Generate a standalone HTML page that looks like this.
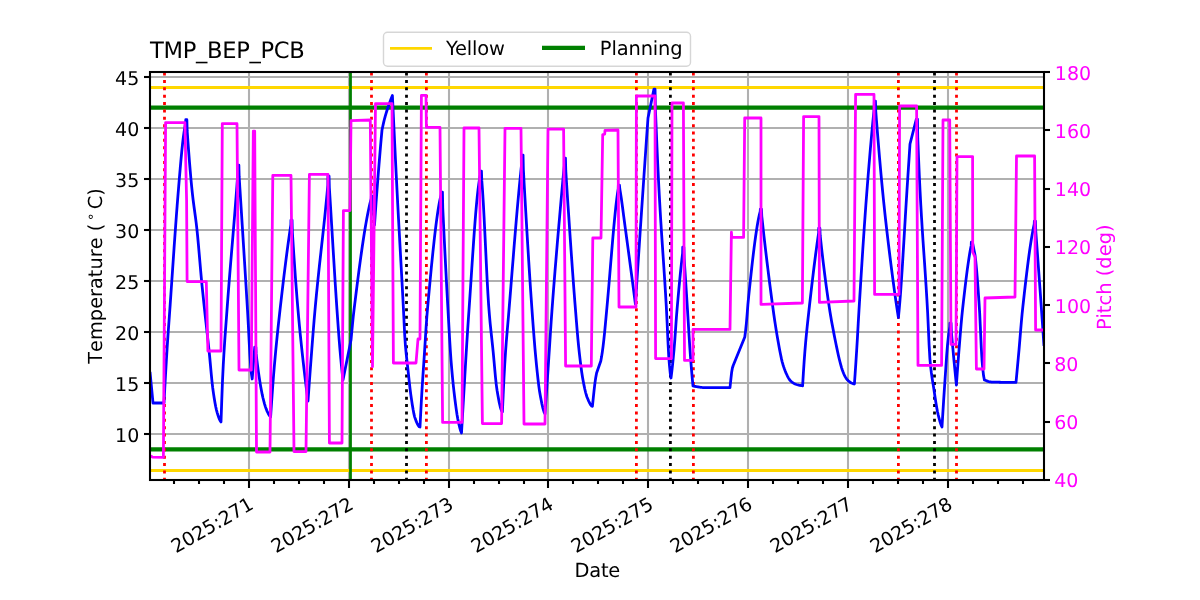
<!DOCTYPE html>
<html lang="en"><head><meta charset="utf-8"><title>TMP_BEP_PCB</title>
<style>html,body{margin:0;padding:0;background:#fff;}body{width:1200px;height:600px;overflow:hidden;}svg{display:block;}text{font-family:"DejaVu Sans","Liberation Sans",sans-serif;text-rendering:geometricPrecision;}</style>
</head><body>
<svg width="1200" height="600" viewBox="0 0 1200 600">
<rect width="1200" height="600" fill="#ffffff"/>
<defs><clipPath id="ax"><rect x="150" y="72" width="894" height="408"/></clipPath></defs>
<g clip-path="url(#ax)" fill="none">
<g stroke="#b0b0b0" stroke-width="2.08">
<line x1="249" y1="72" x2="249" y2="480"/>
<line x1="349" y1="72" x2="349" y2="480"/>
<line x1="449" y1="72" x2="449" y2="480"/>
<line x1="548" y1="72" x2="548" y2="480"/>
<line x1="648" y1="72" x2="648" y2="480"/>
<line x1="748" y1="72" x2="748" y2="480"/>
<line x1="848" y1="72" x2="848" y2="480"/>
<line x1="948" y1="72" x2="948" y2="480"/>
<line x1="150" y1="434" x2="1044" y2="434"/>
<line x1="150" y1="383" x2="1044" y2="383"/>
<line x1="150" y1="332" x2="1044" y2="332"/>
<line x1="150" y1="281" x2="1044" y2="281"/>
<line x1="150" y1="230" x2="1044" y2="230"/>
<line x1="150" y1="179" x2="1044" y2="179"/>
<line x1="150" y1="128" x2="1044" y2="128"/>
<line x1="150" y1="77" x2="1044" y2="77"/>
</g>
<line x1="150" y1="87.5" x2="1044" y2="87.5" stroke="#ffd700" stroke-width="2.78"/>
<line x1="150" y1="470.5" x2="1044" y2="470.5" stroke="#ffd700" stroke-width="2.78"/>
<line x1="150" y1="107.65" x2="1044" y2="107.65" stroke="#008000" stroke-width="4.17"/>
<line x1="150" y1="449.4" x2="1044" y2="449.4" stroke="#008000" stroke-width="4.17"/>
<line x1="350.5" y1="480" x2="350.5" y2="72" stroke="#008000" stroke-width="2.78"/>
<g stroke="#ff0000" stroke-width="2.78" stroke-dasharray="3 4.367">
<line x1="164.5" y1="480.75" x2="164.5" y2="72"/>
<line x1="371.5" y1="480.75" x2="371.5" y2="72"/>
<line x1="426.4" y1="480.75" x2="426.4" y2="72"/>
<line x1="636.4" y1="480.75" x2="636.4" y2="72"/>
<line x1="693.4" y1="480.75" x2="693.4" y2="72"/>
<line x1="898.4" y1="480.75" x2="898.4" y2="72"/>
<line x1="956.5" y1="480.75" x2="956.5" y2="72"/>
</g>
<g stroke="#000000" stroke-width="2.78" stroke-dasharray="3 4.367">
<line x1="406.5" y1="480.75" x2="406.5" y2="72"/>
<line x1="670.4" y1="480.75" x2="670.4" y2="72"/>
<line x1="934.5" y1="480.75" x2="934.5" y2="72"/>
</g>
<path d="M150 372 L153 403 L164 403 L164.77 388.33 L165.54 374.34 L166.32 361.08 L167.09 348.59 L167.86 337.04 L168.63 326.17 L169.41 315.5 L170.18 304.61 L170.95 293.49 L171.72 282.24 L172.5 270.94 L173.27 259.64 L174.04 248.43 L174.81 237.37 L175.59 226.53 L176.36 215.98 L177.13 205.78 L177.9 196.02 L178.68 186.71 L179.45 177.45 L180.22 168.31 L180.99 159.51 L181.77 151.27 L182.54 143.83 L183.31 137.4 L184.08 131.97 L184.86 127.15 L185.63 123 L185.75 119.75 L186.85 119.75 L187.15 130.67 L187.9 141.29 L188.66 151.45 L189.41 161.1 L190.16 170.21 L190.91 178.75 L191.67 186.68 L192.42 193.91 L193.17 200.27 L193.92 206.04 L194.67 211.52 L195.43 217.03 L196.18 222.87 L196.93 229.36 L197.68 236.76 L198.43 244.95 L199.19 253.62 L199.94 262.45 L200.69 271.14 L201.44 279.37 L202.2 287.02 L202.95 294.37 L203.7 301.54 L204.45 308.61 L205.2 315.6 L205.96 322.4 L206.71 329.11 L207.46 335.83 L208.21 342.65 L208.97 349.67 L209.72 357.25 L210.47 365.41 L211.22 373.6 L211.97 381.29 L212.73 387.94 L213.48 393.33 L214.23 398.25 L214.98 402.73 L215.73 406.7 L216.49 410.07 L217.24 412.82 L217.99 415.28 L218.74 417.52 L219.5 419.45 L220.25 420.97 L221 422 L221.76 400.12 L222.51 380.55 L223.27 364.86 L224.03 351.76 L224.78 340.21 L225.54 329.65 L226.3 319.52 L227.05 309.28 L227.81 299.05 L228.57 289.17 L229.32 279.58 L230.08 270.21 L230.83 261.01 L231.59 251.91 L232.35 242.86 L233.1 233.79 L233.86 224.65 L234.62 215.38 L235.37 205.91 L236.13 196.19 L236.89 186.14 L237.64 175.67 L237.75 165.15 L238.85 165.15 L239.17 176.94 L239.93 188.95 L240.7 201.03 L241.47 213.1 L242.23 225.19 L243 237.3 L243.77 249.47 L244.53 261.7 L245.3 274.01 L246.07 286.43 L246.83 298.98 L247.6 311.69 L248.37 325.79 L249.13 340.74 L249.9 354.81 L250.67 366.27 L251.43 373.9 L252.2 379 L254.75 347.15 L255.85 347.15 L256.16 353.88 L256.92 360.41 L257.68 366.53 L258.44 372.18 L259.2 377.3 L259.96 382.11 L260.72 386.65 L261.48 390.85 L262.24 394.65 L263 398 L263.76 401.01 L264.52 403.81 L265.28 406.35 L266.04 408.61 L266.8 410.55 L267.56 412.2 L268.32 413.71 L269.08 415.04 L269.84 416.15 L270.6 417 L271.35 405.74 L272.1 394.86 L272.85 384.51 L273.6 374.84 L274.35 365.93 L275.1 357.51 L275.85 349.47 L276.6 341.78 L277.35 334.39 L278.1 327.25 L278.85 320.32 L279.6 313.56 L280.35 306.91 L281.1 300.34 L281.85 293.85 L282.6 287.44 L283.35 281.13 L284.1 274.92 L284.85 268.82 L285.6 262.84 L286.35 256.98 L287.1 251.25 L287.85 245.66 L288.6 240.21 L289.35 234.91 L290.1 229.77 L290.85 224.8 L290.95 220.15 L292.05 220.15 L292.38 232.56 L293.16 244.71 L293.94 256.43 L294.72 267.71 L295.5 278.54 L296.29 288.91 L297.07 298.81 L297.85 308.22 L298.63 317.13 L299.41 325.55 L300.19 333.55 L300.97 341.21 L301.75 348.59 L302.53 355.78 L303.31 362.82 L304.1 369.69 L304.88 376.37 L305.66 382.86 L306.44 389.13 L307.22 395.18 L308 401 L308.76 390.28 L309.53 379.74 L310.29 369.41 L311.05 359.32 L311.81 349.33 L312.58 339.43 L313.34 329.74 L314.1 320.38 L314.87 311.5 L315.63 303.11 L316.39 295.07 L317.16 287.34 L317.92 279.86 L318.68 272.6 L319.44 265.5 L320.21 258.52 L320.97 251.61 L321.73 244.74 L322.5 237.84 L323.26 230.88 L324.02 223.81 L324.79 216.58 L325.55 209.16 L326.31 201.48 L327.07 193.51 L327.84 185.06 L327.95 176.15 L329.05 176.15 L329.36 187.77 L330.12 199.78 L330.87 212.06 L331.63 224.51 L332.39 237.05 L333.15 249.58 L333.91 262.02 L334.66 274.29 L335.42 286.28 L336.18 297.91 L336.94 309.09 L337.69 319.92 L338.45 330.46 L339.21 340.45 L339.97 349.64 L340.73 358.08 L341.48 366 L342.24 373.33 L343 380 L343.8 376 L344.6 372 L345.4 368 L346.2 364 L347 360 L347.8 356 L348.6 352 L349.4 348 L350.2 344 L351 340 L351.75 332.02 L352.5 324.13 L353.25 316.66 L354 310 L354.75 303.87 L355.5 297.8 L356.25 291.77 L357 285.82 L357.75 279.94 L358.5 274.14 L359.25 268.44 L360 262.85 L360.75 257.37 L361.5 252.02 L362.25 246.81 L363 241.74 L363.75 236.83 L364.5 232.09 L365.25 227.52 L366 223.14 L366.75 218.95 L367.5 214.98 L368.25 211.21 L369 207.68 L369.75 204.38 L370.5 201.33 L371.25 198.53 L371.35 196.15 L372.45 196.15 L374.5 225 L375.25 214.1 L376 203.49 L376.75 193.29 L377.5 183.52 L378.25 173.96 L379 164.62 L379.75 155.52 L380.5 146.69 L381.25 138.18 L382 130 L382.8 126.21 L383.6 122.62 L384.4 119.29 L385.2 116.28 L386 113.52 L386.8 110.97 L387.6 108.55 L388.4 106.22 L389.2 103.93 L390 101.7 L390.8 99.55 L391.6 97.48 L392.4 95.5 L393.17 111.82 L393.93 127.94 L394.7 143.84 L395.47 159.5 L396.23 174.89 L397 190 L397.77 204.71 L398.53 218.99 L399.3 232.99 L400.07 246.82 L400.83 260.61 L401.6 274.48 L402.37 288.55 L403.13 302.96 L403.9 318.34 L404.67 334.54 L405.43 345.59 L406.2 353.87 L406.97 360.88 L407.73 367.57 L408.5 374.68 L409.27 381.82 L410.03 388.58 L410.8 394.6 L411.57 399.85 L412.33 404.92 L413.1 409.6 L413.87 413.66 L414.63 416.85 L415.4 419.1 L416.17 421.14 L416.93 423.01 L417.7 424.62 L418.47 425.88 L419.23 426.71 L420 427 L420.76 412.11 L421.52 398.24 L422.28 385.54 L423.03 374.07 L423.79 363.05 L424.55 351.55 L425.31 339.53 L426.07 327.75 L426.83 316.98 L427.59 307.93 L428.34 299.56 L429.1 291.28 L429.86 283.11 L430.62 275.09 L431.38 267.24 L432.14 259.6 L432.9 252.19 L433.66 245.05 L434.41 238.19 L435.17 231.66 L435.93 225.47 L436.69 219.66 L437.45 214.26 L438.21 209.29 L438.97 204.79 L439.72 200.78 L440.48 197.29 L441.24 194.36 L441.35 192.15 L442.45 192.15 L442.75 208.05 L443.5 223.69 L444.25 238.95 L445 253.84 L445.75 268.38 L446.5 282.57 L447.25 296.44 L448 310 L448.75 323.58 L449.5 336.96 L450.25 349.36 L451 360 L451.75 369.05 L452.5 377.28 L453.25 384.79 L454 391.66 L454.75 397.99 L455.5 403.9 L456.25 409.43 L457 414.44 L457.75 418.75 L458.5 422.36 L459.25 425.66 L460 428.61 L460.75 431.09 L461.5 433 L462.25 419.97 L463 407.05 L463.75 394.24 L464.5 381.51 L465.25 368.77 L466 356.19 L466.75 343.97 L467.5 332.23 L468.25 320.91 L469 310 L469.75 299.09 L470.5 287.91 L471.25 276.58 L472 265.23 L472.75 254.01 L473.5 243.04 L474.25 232.45 L475 222.39 L475.75 212.98 L476.5 204.35 L477.25 196.65 L478 190 L478.75 184.26 L479.5 179.18 L480.25 174.76 L480.35 171.15 L481.45 171.15 L481.76 180.14 L482.53 190.41 L483.29 202.69 L484.06 216.79 L484.82 232.11 L485.59 248.02 L486.35 263.9 L487.11 279.13 L487.88 293.1 L488.64 305.18 L489.41 314.95 L490.17 323.28 L490.94 330.74 L491.7 337.76 L492.46 344.81 L493.23 352.34 L493.99 360.69 L494.76 369.34 L495.52 377.62 L496.29 384.83 L497.05 390.3 L497.81 394.75 L498.58 399 L499.34 402.88 L500.11 406.27 L500.87 409.02 L501.64 410.97 L502.4 412 L503.18 394.62 L503.95 378.55 L504.73 364.37 L505.51 352.43 L506.28 342.02 L507.06 332.6 L507.84 323.64 L508.62 314.63 L509.39 305.17 L510.17 295.54 L510.95 285.85 L511.72 276.15 L512.5 266.44 L513.28 256.78 L514.05 247.2 L514.83 237.72 L515.61 228.37 L516.38 219.2 L517.16 210.23 L517.94 201.5 L518.72 193.03 L519.49 184.87 L520.27 177.04 L521.05 169.48 L521.82 162.15 L521.95 155.15 L523.05 155.15 L523.37 169.56 L524.14 183.73 L524.92 197.23 L525.69 210.53 L526.46 223.67 L527.23 236.62 L528.01 249.34 L528.78 261.79 L529.55 273.94 L530.32 285.74 L531.1 297.17 L531.87 308.18 L532.64 318.84 L533.41 329.25 L534.19 339.23 L534.96 348.61 L535.73 357.22 L536.5 365.07 L537.28 372.63 L538.05 379.73 L538.82 386.12 L539.59 391.58 L540.37 396 L541.14 400.08 L541.91 403.87 L542.68 407.27 L543.46 410.16 L544.23 412.44 L545 414 L545.77 402.8 L546.54 391.55 L547.31 380.24 L548.08 368.86 L548.85 357.2 L549.62 345.31 L550.38 333.47 L551.15 321.95 L551.92 311.05 L552.69 300.73 L553.46 290.66 L554.23 280.83 L555 271.2 L555.77 261.77 L556.54 252.52 L557.31 243.41 L558.08 234.44 L558.85 225.57 L559.62 216.81 L560.38 208.11 L561.15 199.47 L561.92 190.86 L562.69 182.37 L563.46 174.1 L564.23 166 L564.35 158.15 L565.45 158.15 L565.76 170.43 L566.52 182.61 L567.28 194.3 L568.04 205.8 L568.81 217.2 L569.57 228.49 L570.33 239.63 L571.09 250.62 L571.85 261.42 L572.61 272.01 L573.37 282.39 L574.13 292.51 L574.89 302.37 L575.66 311.94 L576.42 321.4 L577.18 330.61 L577.94 339.3 L578.7 347.18 L579.46 354.13 L580.22 360.65 L580.98 366.71 L581.74 372.24 L582.51 377.17 L583.27 381.44 L584.03 385.37 L584.79 389.01 L585.55 392.25 L586.31 395 L587.07 397.18 L587.83 399.07 L588.59 400.87 L589.36 402.52 L590.12 403.96 L590.88 405.12 L591.64 405.96 L592.4 406.4 L593.24 398.44 L594.08 390.37 L594.92 383.11 L595.76 377.42 L596.6 373 L600.8 361 L601.56 356.86 L602.32 351.98 L603.07 346.39 L603.83 339.87 L604.59 332.71 L605.35 324.74 L606.11 316.41 L606.87 308.22 L607.62 299.88 L608.38 291.19 L609.14 282.25 L609.9 273.15 L610.66 263.98 L611.42 254.84 L612.17 245.8 L612.93 236.97 L613.69 228.44 L614.45 220.29 L615.21 212.62 L615.97 205.52 L616.73 199.08 L617.48 193.4 L618.24 188.61 L618.35 185.15 L619.45 185.15 L619.78 188.8 L620.56 193.36 L621.34 198.54 L622.12 204.15 L622.9 210.04 L623.69 216.06 L624.47 222.03 L625.25 227.82 L626.03 233.55 L626.81 239.31 L627.59 245.08 L628.37 250.87 L629.15 256.69 L629.93 262.52 L630.71 268.37 L631.5 274.25 L632.28 280.15 L633.06 286.07 L633.84 292.02 L634.62 298 L635.4 304 L636.19 291.93 L636.98 279.93 L637.76 267.99 L638.55 256.11 L639.34 244.29 L640.12 232.52 L640.91 220.8 L641.7 209.14 L642.49 197.53 L643.27 185.97 L644.06 174.48 L644.85 163.06 L645.64 151.7 L646.42 140.41 L647.21 129.18 L648 118 L653.95 89.15 L655.05 89.15 L655.38 108.72 L656.16 127.88 L656.94 146.31 L657.72 163.83 L658.5 180.24 L659.29 195.38 L660.07 209.27 L660.85 222.15 L661.63 234.29 L662.41 245.96 L663.19 257.44 L663.97 268.98 L664.75 280.85 L665.53 293.33 L666.31 306.67 L667.1 322.09 L667.88 339.64 L668.66 355.05 L669.44 365.18 L670.22 372.99 L671 378 L671.77 371.86 L672.55 364.9 L673.33 357.2 L674.1 348.88 L674.88 339.04 L675.65 328.05 L676.42 317.2 L677.2 307.7 L677.98 298.92 L678.75 290.38 L679.52 282.15 L680.3 274.25 L681.07 266.74 L681.85 259.66 L682.62 253.07 L682.75 247.15 L683.85 247.15 L684.2 259.05 L685 271.22 L685.8 283.52 L686.6 295.93 L687.4 308.43 L688.2 321.41 L689 334.73 L689.8 347.17 L690.6 358.09 L691.4 368.27 L692.2 377.62 L693 386 L693.76 386.14 L694.51 386.27 L695.27 386.41 L696.02 386.55 L696.78 386.69 L697.53 386.82 L698.29 386.95 L699.04 387.07 L699.8 387.18 L700.55 387.29 L701.31 387.38 L702.06 387.46 L702.82 387.52 L703.57 387.56 L704.33 387.59 L705.08 387.6 L705.84 387.6 L706.59 387.6 L707.35 387.6 L708.1 387.6 L708.86 387.6 L709.61 387.6 L710.37 387.6 L711.12 387.6 L711.88 387.6 L712.63 387.6 L713.39 387.6 L714.14 387.6 L714.9 387.6 L715.65 387.6 L716.41 387.6 L717.16 387.6 L717.92 387.6 L718.67 387.6 L719.43 387.6 L720.18 387.6 L720.94 387.6 L721.69 387.6 L722.45 387.6 L723.2 387.6 L723.96 387.6 L724.71 387.6 L725.47 387.6 L726.22 387.6 L726.98 387.6 L727.73 387.6 L728.49 387.6 L729.24 387.6 L730 387.6 L730.8 379.81 L731.6 372.57 L732.4 367.97 L733.2 365.5 L744.8 337 L745.57 330.84 L746.34 323.59 L747.11 314.67 L747.89 304.58 L748.66 296.55 L749.43 289.17 L750.2 281.88 L750.97 274.73 L751.74 267.74 L752.51 260.96 L753.29 254.41 L754.06 248.13 L754.83 242.14 L755.6 236.49 L756.37 231.2 L757.14 226.32 L757.91 221.86 L758.69 217.87 L759.46 214.37 L760.23 211.4 L760.35 209.15 L761.45 209.15 L761.76 216.07 L762.51 223.02 L763.27 229.84 L764.03 236.54 L764.78 243.12 L765.54 249.59 L766.29 255.96 L767.05 262.22 L767.81 268.39 L768.56 274.47 L769.32 280.46 L770.08 286.36 L770.83 292.2 L771.59 297.95 L772.35 303.65 L773.1 309.27 L773.86 314.76 L774.61 319.96 L775.37 324.9 L776.13 329.69 L776.88 334.35 L777.64 338.82 L778.4 343.09 L779.15 347.15 L779.91 351.17 L780.67 355.04 L781.42 358.63 L782.18 361.81 L782.93 364.49 L783.69 366.9 L784.45 369.08 L785.2 371.06 L785.96 372.85 L786.72 374.52 L787.47 376.11 L788.23 377.59 L788.99 378.89 L789.74 379.95 L790.5 380.77 L791.25 381.5 L792.01 382.14 L792.77 382.7 L793.52 383.19 L794.28 383.59 L795.04 383.94 L795.79 384.25 L796.55 384.52 L797.31 384.76 L798.06 384.97 L798.82 385.16 L799.57 385.32 L800.33 385.47 L801.09 385.61 L801.84 385.72 L802.6 385.8 L803.36 373.3 L804.13 361.68 L804.89 351.35 L805.65 342.37 L806.42 334.2 L807.18 326.65 L807.95 319.51 L808.71 312.61 L809.47 305.77 L810.24 299.01 L811 292.33 L811.76 285.76 L812.53 279.3 L813.29 272.97 L814.05 266.76 L814.82 260.7 L815.58 254.8 L816.35 249.07 L817.11 243.51 L817.87 238.14 L818.64 232.96 L818.75 228.15 L819.85 228.15 L820.16 235.23 L820.92 242.26 L821.68 249.1 L822.44 255.73 L823.2 262.17 L823.97 268.43 L824.73 274.51 L825.49 280.4 L826.25 286.12 L827.01 291.67 L827.77 297.06 L828.53 302.28 L829.29 307.34 L830.05 312.23 L830.81 316.82 L831.57 321.15 L832.33 325.31 L833.1 329.36 L833.86 333.37 L834.62 337.29 L835.38 341.08 L836.14 344.78 L836.9 348.4 L837.66 351.98 L838.42 355.46 L839.18 358.72 L839.94 361.74 L840.7 364.62 L841.47 367.32 L842.23 369.72 L842.99 371.81 L843.75 373.71 L844.51 375.41 L845.27 376.87 L846.03 378.07 L846.79 379.13 L847.55 380.06 L848.31 380.83 L849.07 381.48 L849.83 382.04 L850.6 382.53 L851.36 382.93 L852.12 383.27 L852.88 383.57 L853.64 383.82 L854.4 384 L855.16 373.28 L855.93 361.93 L856.69 350 L857.45 337.36 L858.21 323.67 L858.98 310.37 L859.74 297.89 L860.5 285.54 L861.27 273.34 L862.03 261.33 L862.79 249.53 L863.56 237.99 L864.32 226.75 L865.08 215.82 L865.84 205.25 L866.61 195.07 L867.37 185.29 L868.13 175.75 L868.9 166.42 L869.66 157.32 L870.42 148.46 L871.19 139.85 L871.95 131.5 L872.71 123.43 L873.47 115.65 L874.24 108.17 L874.35 101.15 L875.45 101.15 L875.75 111.01 L876.51 120.78 L877.26 130.33 L878.02 139.65 L878.77 148.73 L879.53 157.57 L880.28 166.17 L881.04 174.53 L881.79 182.64 L882.55 190.5 L883.3 198.1 L884.06 205.45 L884.81 212.57 L885.57 219.48 L886.32 226.2 L887.08 232.74 L887.83 239.12 L888.59 245.36 L889.34 251.53 L890.1 257.61 L890.85 263.61 L891.61 269.52 L892.36 275.34 L893.12 281.05 L893.87 286.65 L894.63 292.13 L895.38 297.5 L896.14 302.73 L896.89 307.83 L897.65 312.79 L898.4 317.6 L899.17 309.56 L899.95 300.66 L900.72 290.55 L901.49 279.47 L902.27 267.62 L903.04 255.21 L903.81 242.43 L904.59 229.46 L905.36 216.51 L906.13 203.78 L906.91 191.45 L907.68 179.49 L908.45 167.61 L909.23 155.79 L910 144 L916.35 119.15 L917.45 119.15 L917.76 138.43 L918.52 157.2 L919.27 174.76 L920.03 190.59 L920.79 204.74 L921.55 217.73 L922.3 229.83 L923.06 241.3 L923.82 252.42 L924.58 263.44 L925.33 274.64 L926.09 286.27 L926.85 298.62 L927.61 311.98 L928.36 328.27 L929.12 345.26 L929.88 358.52 L930.64 366.56 L931.39 372.97 L932.15 378.33 L932.91 383.12 L933.67 387.83 L934.42 392.84 L935.18 397.92 L935.94 402.84 L936.7 407.43 L937.45 411.5 L938.21 414.89 L938.97 417.93 L939.73 420.74 L940.48 423.22 L941.24 425.33 L942 427 L942.78 414.06 L943.56 401.59 L944.35 389.62 L945.13 378.15 L945.91 366.52 L946.69 355.18 L947.47 345.29 L948.25 337.82 L949.04 331.63 L949.82 326.55 L949.95 323.15 L951.05 323.15 L951.43 332.55 L952.26 341.87 L953.09 350.92 L953.91 359.75 L954.74 368.39 L955.57 376.81 L956.4 385 L957.18 374 L957.96 363.39 L958.74 353.26 L959.52 343.53 L960.3 333.94 L961.08 324.74 L961.86 316.24 L962.64 308.72 L963.42 301.69 L964.2 294.8 L964.98 288.09 L965.76 281.61 L966.54 275.38 L967.32 269.44 L968.1 263.83 L968.88 258.59 L969.66 253.75 L970.44 249.34 L971.22 245.42 L971.35 242.15 L972.45 242.15 L975 255 L975.78 261.53 L976.57 269.64 L977.35 279.1 L978.13 289.66 L978.92 301.08 L979.7 313.36 L980.48 329.99 L981.27 347.68 L982.05 360.59 L982.83 369.23 L983.62 376.09 L984.4 380 L985.15 380.28 L985.9 380.58 L986.66 380.88 L987.41 381.16 L988.16 381.43 L988.91 381.65 L989.67 381.83 L990.42 381.96 L991.17 382.01 L991.92 382.03 L992.68 382.06 L993.43 382.08 L994.18 382.11 L994.93 382.13 L995.69 382.15 L996.44 382.17 L997.19 382.19 L997.94 382.21 L998.7 382.23 L999.45 382.24 L1000.2 382.26 L1000.95 382.27 L1001.7 382.29 L1002.46 382.3 L1003.21 382.31 L1003.96 382.32 L1004.71 382.33 L1005.47 382.34 L1006.22 382.35 L1006.97 382.36 L1007.72 382.37 L1008.48 382.37 L1009.23 382.38 L1009.98 382.38 L1010.73 382.39 L1011.49 382.39 L1012.24 382.39 L1012.99 382.4 L1013.74 382.4 L1014.5 382.4 L1015.25 382.4 L1016 382.4 L1016.76 374.36 L1017.52 366.2 L1018.28 357.94 L1019.04 349.55 L1019.8 340.7 L1020.56 331.46 L1021.32 322.4 L1022.08 314.08 L1022.84 306.89 L1023.6 299.99 L1024.36 293.2 L1025.12 286.52 L1025.88 280 L1026.64 273.63 L1027.4 267.46 L1028.16 261.5 L1028.92 255.77 L1029.68 250.3 L1030.44 245.1 L1031.2 240.21 L1031.96 235.64 L1032.72 231.41 L1033.48 227.54 L1034.24 224.07 L1034.35 221.15 L1035.45 221.15 L1035.75 230.94 L1036.5 240.98 L1037.25 251.11 L1038 261.34 L1038.75 271.64 L1039.5 282.02 L1040.25 292.46 L1041 302.97 L1041.75 313.53 L1042.5 324.24 L1043.25 335.08 L1044 346" stroke="#0000ff" stroke-width="2.78" stroke-linejoin="round" stroke-linecap="butt"/>
<path d="M150 455.8 L152.5 457.1 L163.4 457.3 L165.6 122.6 L184.9 122.6 L186.6 200 L187.1 281.6 L206.3 281.6 L207.9 351 L221 351 L222.3 123.7 L237 123.7 L239 370 L251.3 370 L253.3 131.2 L254.7 131.2 L256.5 452 L270 452 L272.8 175.4 L291 175.4 L294 451.6 L306 451.6 L309.4 174.4 L328 174.4 L329.4 443 L342 443 L343.4 210.6 L350 210.6 L351 120.6 L370.3 120 L372.5 366.7 L375.5 103.7 L392 103.7 L393.4 363 L416 363 L418 339 L420 339 L421.4 95.4 L426 95.4 L426.4 127.4 L440 127.4 L442.6 422.4 L462 422.4 L464 128 L479 128 L482.4 423.6 L501.6 423.6 L505 128.4 L521 128.4 L524 424 L545 424 L548 129.2 L563.6 129.2 L565.6 366 L591.3 366 L592.8 238 L601 238 L602.7 134.6 L604.7 134.2 L605 130.3 L618 130 L619 307 L636 307 L636.4 96 L655 96 L655.6 358.6 L671.4 358.6 L672 103 L683.4 103 L684.5 360.4 L693 360.4 L693 329.4 L730 329.4 L731.4 232.2 L731.8 237.4 L743.6 237.4 L744.7 118 L761 118 L761 304.4 L802.4 303 L803.6 116.6 L819 116.6 L819.4 302.4 L854 301 L855.6 94.4 L874 94.4 L874.6 294.4 L899 294.4 L899.6 106 L916.6 106 L918 365.4 L941.6 365.4 L943 120 L949.7 120 L951 344.4 L956 344.4 L957 156.6 L972.6 156.6 L972.7 252 L975 257 L976.4 369 L984 369 L985 298 L1015 297 L1016.5 156 L1034.6 156 L1035.6 330 L1044 330" stroke="#ff00ff" stroke-width="2.78" stroke-linejoin="round" stroke-linecap="butt"/>
</g>
<g stroke="#000000" fill="none">
<g stroke-width="2.08">
<line x1="249" y1="480" x2="249" y2="488"/>
<line x1="349" y1="480" x2="349" y2="488"/>
<line x1="449" y1="480" x2="449" y2="488"/>
<line x1="548" y1="480" x2="548" y2="488"/>
<line x1="648" y1="480" x2="648" y2="488"/>
<line x1="748" y1="480" x2="748" y2="488"/>
<line x1="848" y1="480" x2="848" y2="488"/>
<line x1="948" y1="480" x2="948" y2="488"/>
<line x1="150" y1="434" x2="144" y2="434"/>
<line x1="150" y1="383" x2="144" y2="383"/>
<line x1="150" y1="332" x2="144" y2="332"/>
<line x1="150" y1="281" x2="144" y2="281"/>
<line x1="150" y1="230" x2="144" y2="230"/>
<line x1="150" y1="179" x2="144" y2="179"/>
<line x1="150" y1="128" x2="144" y2="128"/>
<line x1="150" y1="77" x2="144" y2="77"/>
<line x1="1044" y1="480" x2="1050" y2="480"/>
<line x1="1044" y1="422" x2="1050" y2="422"/>
<line x1="1044" y1="363" x2="1050" y2="363"/>
<line x1="1044" y1="305" x2="1050" y2="305"/>
<line x1="1044" y1="247" x2="1050" y2="247"/>
<line x1="1044" y1="189" x2="1050" y2="189"/>
<line x1="1044" y1="130" x2="1050" y2="130"/>
<line x1="1044" y1="72" x2="1050" y2="72"/>
</g>
<g stroke-width="2.08">
<line x1="174" y1="480" x2="174" y2="484"/>
<line x1="199" y1="480" x2="199" y2="484"/>
<line x1="224" y1="480" x2="224" y2="484"/>
<line x1="274" y1="480" x2="274" y2="484"/>
<line x1="299" y1="480" x2="299" y2="484"/>
<line x1="324" y1="480" x2="324" y2="484"/>
<line x1="374" y1="480" x2="374" y2="484"/>
<line x1="399" y1="480" x2="399" y2="484"/>
<line x1="424" y1="480" x2="424" y2="484"/>
<line x1="474" y1="480" x2="474" y2="484"/>
<line x1="499" y1="480" x2="499" y2="484"/>
<line x1="524" y1="480" x2="524" y2="484"/>
<line x1="573" y1="480" x2="573" y2="484"/>
<line x1="598" y1="480" x2="598" y2="484"/>
<line x1="623" y1="480" x2="623" y2="484"/>
<line x1="673" y1="480" x2="673" y2="484"/>
<line x1="698" y1="480" x2="698" y2="484"/>
<line x1="723" y1="480" x2="723" y2="484"/>
<line x1="773" y1="480" x2="773" y2="484"/>
<line x1="798" y1="480" x2="798" y2="484"/>
<line x1="823" y1="480" x2="823" y2="484"/>
<line x1="873" y1="480" x2="873" y2="484"/>
<line x1="898" y1="480" x2="898" y2="484"/>
<line x1="923" y1="480" x2="923" y2="484"/>
<line x1="973" y1="480" x2="973" y2="484"/>
<line x1="998" y1="480" x2="998" y2="484"/>
<line x1="1023" y1="480" x2="1023" y2="484"/>
</g>
<rect x="150" y="72" width="894" height="408" stroke-width="2.08" stroke-linejoin="miter"/>
</g>
<g font-size="19" fill="#000000">
<text x="139.3" y="441.9" text-anchor="end">10</text>
<text x="139.3" y="390.9" text-anchor="end">15</text>
<text x="139.3" y="339.9" text-anchor="end">20</text>
<text x="139.3" y="288.9" text-anchor="end">25</text>
<text x="139.3" y="237.9" text-anchor="end">30</text>
<text x="139.3" y="186.9" text-anchor="end">35</text>
<text x="139.3" y="135.9" text-anchor="end">40</text>
<text x="139.3" y="84.9" text-anchor="end">45</text>
<text transform="translate(254.8 508) rotate(-30)" text-anchor="end">2025:271</text>
<text transform="translate(354.8 508) rotate(-30)" text-anchor="end">2025:272</text>
<text transform="translate(454.8 508) rotate(-30)" text-anchor="end">2025:273</text>
<text transform="translate(554.8 508) rotate(-30)" text-anchor="end">2025:274</text>
<text transform="translate(654.8 508) rotate(-30)" text-anchor="end">2025:275</text>
<text transform="translate(753.8 508) rotate(-30)" text-anchor="end">2025:276</text>
<text transform="translate(853.8 508) rotate(-30)" text-anchor="end">2025:277</text>
<text transform="translate(953.8 508) rotate(-30)" text-anchor="end">2025:278</text>
<text x="574.59" y="577" font-size="19.44" textLength="45.74" lengthAdjust="spacing">Date</text>
<text transform="translate(102.1 363.7) rotate(-90)" font-size="19.3"><tspan x="0 11.81 23.72 42.56 54.84 66.74 74.7 86.55 94.13 106.39 114.35 126.24 132.39">Temperature (</tspan><tspan x="142.76" dy="-7.3" font-size="13.51">&#8728;</tspan><tspan x="154.38 167.9" dy="7.3">C)</tspan></text>
</g>
<g font-size="19" fill="#ff00ff">
<text x="1054.2" y="486.9" text-anchor="start">40</text>
<text x="1054.2" y="428.9" text-anchor="start">60</text>
<text x="1054.2" y="370.9" text-anchor="start">80</text>
<text x="1054.8" y="312.9" text-anchor="start">100</text>
<text x="1054.8" y="253.9" text-anchor="start">120</text>
<text x="1054.8" y="195.9" text-anchor="start">140</text>
<text x="1054.8" y="137.9" text-anchor="start">160</text>
<text x="1054.8" y="79.9" text-anchor="start">180</text>
<text transform="translate(1110.6 329.91) rotate(-90)" font-size="19.44" textLength="105.58" lengthAdjust="spacing">Pitch (deg)</text>
</g>
<text x="149.97" y="57.9" font-size="22.6" textLength="154.83" lengthAdjust="spacing" fill="#000000">TMP_BEP_PCB</text>
<rect x="383.5" y="32.2" width="307" height="34" rx="4" ry="4" fill="#ffffff" fill-opacity="0.8" stroke="#cccccc" stroke-opacity="0.8" stroke-width="1.4"/>
<line x1="390" y1="48.3" x2="432" y2="48.3" stroke="#ffd700" stroke-width="2.78"/>
<line x1="542" y1="47.9" x2="585" y2="47.9" stroke="#008000" stroke-width="4.17"/>
<g font-size="19.44" fill="#000000"><text x="445.94" y="55.2" textLength="58.88" lengthAdjust="spacing">Yellow</text><text x="599.79" y="55.2" textLength="82.87" lengthAdjust="spacing">Planning</text></g>
</svg>
</body></html>
